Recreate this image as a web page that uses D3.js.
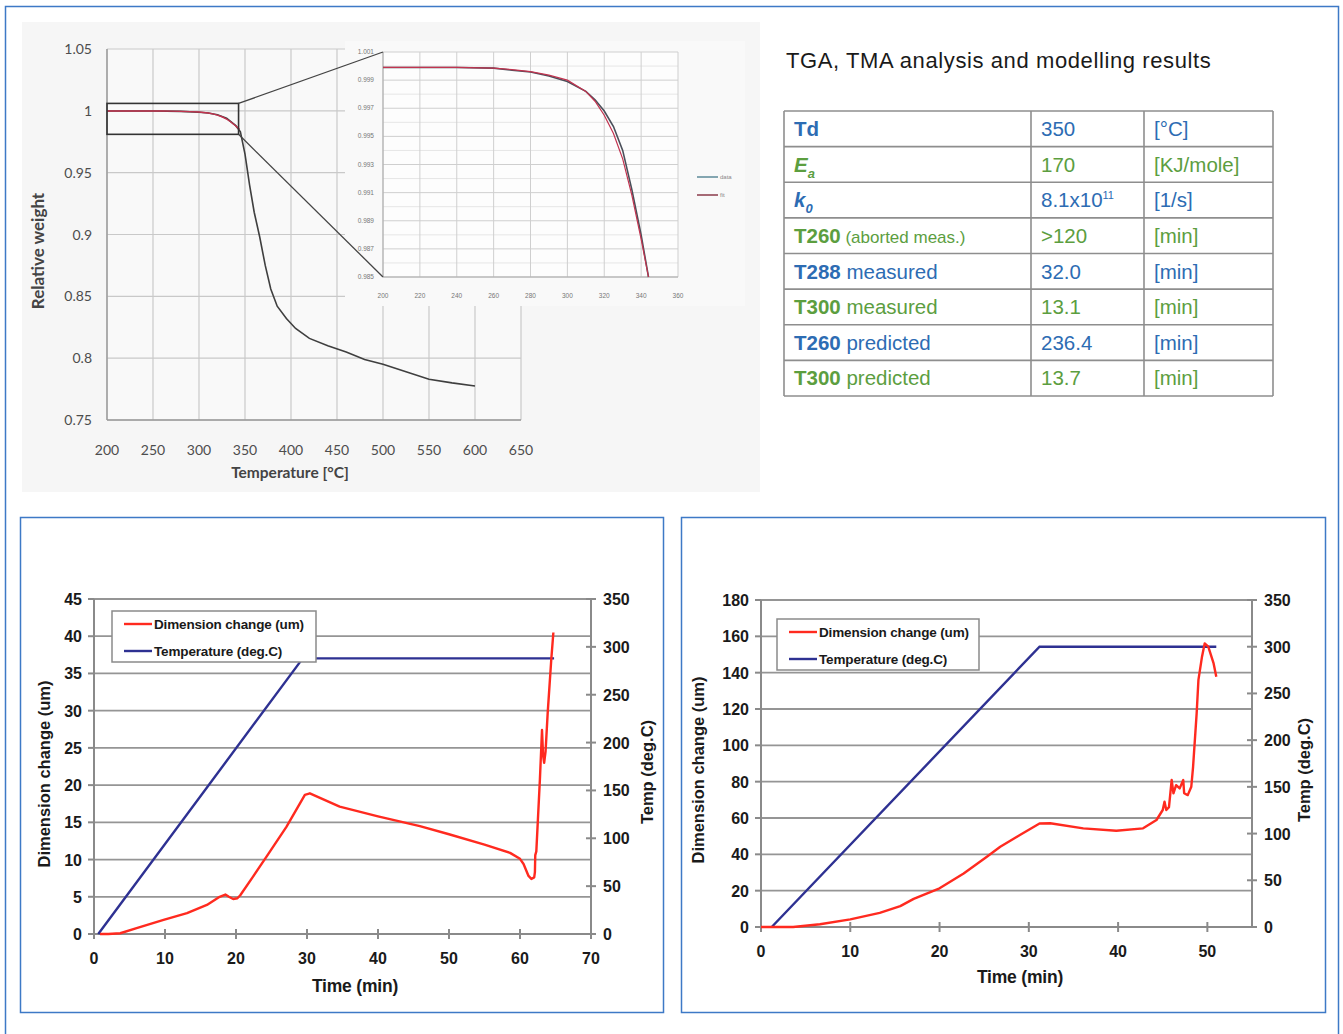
<!DOCTYPE html>
<html>
<head>
<meta charset="utf-8">
<title>TGA / TMA analysis</title>
<script src="https://d3js.org/d3.v7.min.js"></script>
<style>
body { margin: 0; background: #fff; }
svg text { font-family: "Liberation Sans", Arial, sans-serif; }
</style>
</head>
<body>
<div id="my_dataviz"></div>
<script>

// ---- TGA: relative weight vs temperature ----
var tgaTemp   = [200, 250, 280, 300, 310, 320, 330, 340, 345, 350, 355, 360, 366, 372, 378, 385, 395, 405, 420, 440, 460, 480, 500, 525, 550, 575, 600];
var tgaWeight = [0.9999, 0.9999, 0.9996, 0.9989, 0.9982, 0.9968, 0.9940, 0.9880, 0.983, 0.965, 0.940, 0.918, 0.898, 0.875, 0.856, 0.842, 0.832, 0.824, 0.816, 0.810, 0.805, 0.799, 0.795, 0.789, 0.783, 0.780, 0.7775];
var tgaXTicks = [200, 250, 300, 350, 400, 450, 500, 550, 600, 650];
var tgaYTicks = [0.75, 0.8, 0.85, 0.9, 0.95, 1, 1.05];
var tgaYLabels = ["0.75", "0.8", "0.85", "0.9", "0.95", "1", "1.05"];

// zoomed part of the TGA curve: measured data and model fit
var zoomTemp = [200, 220, 240, 260, 270, 280, 290, 300, 310, 315, 320, 325, 330, 335, 340, 344];
var zoomData = [0.9999, 0.9999, 0.9999, 0.99985, 0.9997, 0.99958, 0.9993, 0.9989, 0.9982, 0.9976, 0.9968, 0.9957, 0.9940, 0.9912, 0.9880, 0.9850];
var zoomFit  = [0.9999, 0.9999, 0.9999, 0.99986, 0.99975, 0.9996, 0.99935, 0.9990, 0.9982, 0.9975, 0.9965, 0.9952, 0.9934, 0.9908, 0.9877, 0.9850];
var zoomXTicks = [200, 220, 240, 260, 280, 300, 320, 340, 360];
var zoomYTicks = [0.985, 0.987, 0.989, 0.991, 0.993, 0.995, 0.997, 0.999, 1.001];
var zoomBox = {t0: 200, t1: 343, w0: 0.981, w1: 1.006};

// ---- table ----
var tableLabel = ["Td", "E", "k", "T260", "T288", "T300", "T260", "T300"];
var tableSub   = ["", "a", "0", "", "", "", "", ""];
var tableNote  = ["", "", "", "(aborted meas.)", "measured", "measured", "predicted", "predicted"];
var tableValue = ["350", "170", "8.1x10", ">120", "32.0", "13.1", "236.4", "13.7"];
var tableSup   = ["", "", "11", "", "", "", "", ""];
var tableUnit  = ["[°C]", "[KJ/mole]", "[1/s]", "[min]", "[min]", "[min]", "[min]", "[min]"];
var tableColor = ["blue", "green", "blue", "green", "blue", "green", "blue", "green"];

// ---- TMA run 1 (plateau 288 C) ----
var tma1Time = [0.85, 2, 3.7, 6, 9.8, 13.1, 15.9, 17.7, 18.5, 19.0, 19.6, 20.2, 20.6, 22.4, 24.3, 27.1, 29.7, 30.4, 34.6, 40, 45.9, 50, 55, 58.6, 60, 60.5, 61.2, 61.6, 62.0, 62.1, 62.15, 62.3, 62.8, 63.1, 63.25, 63.4, 63.6, 63.9, 64.4, 64.7];
var tma1Dim  = [0, 0, 0.1, 0.8, 1.9, 2.8, 3.9, 5.0, 5.3, 5.0, 4.7, 4.8, 5.2, 7.7, 10.4, 14.4, 18.7, 18.9, 17.1, 15.8, 14.5, 13.4, 12.0, 10.9, 10.1, 9.4, 7.8, 7.4, 7.6, 8.3, 10.6, 11.1, 20.7, 27.4, 24.0, 23.0, 24.5, 29.7, 36.8, 40.5];
var tma1TempTime = [0.6, 29.4, 64.8];
var tma1Temp     = [0, 288, 288];

// ---- TMA run 2 (plateau 300 C) ----
var tma2Time = [0, 3.6, 6.6, 10, 13.3, 15.6, 17.1, 20, 22.7, 25.3, 26.8, 29, 31.2, 32.4, 36.1, 39.8, 42.8, 44.3, 45.0, 45.2, 45.4, 45.7, 46.0, 46.2, 46.5, 46.9, 47.3, 47.4, 47.8, 48.2, 48.4, 48.8, 49.0, 49.4, 49.7, 50.1, 50.7, 51.0];
var tma2Dim  = [0, 0, 1.5, 4.2, 7.8, 11.5, 15.5, 21.3, 29.5, 38.7, 44.2, 50.6, 57.0, 57.1, 54.3, 53.0, 54.3, 58.9, 64.4, 69.0, 64.4, 66.0, 80.9, 73.6, 78.1, 76.3, 80.9, 73.6, 72.6, 77.2, 88.2, 117.6, 136, 148.8, 156.1, 154.3, 145.1, 137.8];
var tma2TempTime = [1.2, 31.2, 51.0];
var tma2Temp     = [0, 300, 300];

var tempTicks = [0, 50, 100, 150, 200, 250, 300, 350];
var legendNames = ["Dimension change (um)", "Temperature (deg.C)"];

var BLUE_TXT = "#2d6cb3", GREEN_TXT = "#5c9e3f";
var RED = "#ff2a1f", NAVY = "#2e3192", FRAME = "#3d79c6";

var svg = d3.select("#my_dataviz").append("svg")
  .attr("width", 1343).attr("height", 1034);

svg.append("rect").attr("width", 1343).attr("height", 1034).attr("fill", "#fff");
// outer frame
svg.append("rect").attr("x", 5.5).attr("y", 6.5).attr("width", 1333).attr("height", 1040)
  .attr("fill", "none").attr("stroke", FRAME).attr("stroke-width", 1.5);

// ================= TGA chart =================
var tga = svg.append("g");
tga.append("rect").attr("x", 22).attr("y", 22).attr("width", 738).attr("height", 470).attr("fill", "#f6f6f6");

var tx = d3.scaleLinear().domain([200, 650]).range([107, 521]);
var ty = d3.scaleLinear().domain([0.75, 1.05]).range([420, 49]);

tga.append("rect").attr("x", tx(200)).attr("y", ty(1.05))
  .attr("width", tx(650) - tx(200)).attr("height", ty(0.75) - ty(1.05)).attr("fill", "#f9f9f9");

tga.append("g").selectAll("line").data(tgaXTicks).join("line")
  .attr("x1", d => tx(d)).attr("x2", d => tx(d))
  .attr("y1", ty(1.05)).attr("y2", ty(0.75))
  .attr("stroke", "#c9c9c9").attr("stroke-width", 1.2);
tga.append("g").selectAll("line").data(tgaYTicks).join("line")
  .attr("x1", tx(200)).attr("x2", tx(650))
  .attr("y1", d => ty(d)).attr("y2", d => ty(d))
  .attr("stroke", "#c9c9c9").attr("stroke-width", 1.2);
// axis lines
tga.append("line").attr("x1", tx(200)).attr("x2", tx(200)).attr("y1", ty(1.05)).attr("y2", ty(0.75)).attr("stroke", "#999").attr("stroke-width", 1.4);
tga.append("line").attr("x1", tx(200)).attr("x2", tx(650)).attr("y1", ty(0.75)).attr("y2", ty(0.75)).attr("stroke", "#999").attr("stroke-width", 1.4);

tga.append("g").selectAll("text").data(tgaXTicks).join("text")
  .attr("x", d => tx(d)).attr("y", 455).attr("text-anchor", "middle")
  .style("font-family", "Lato, sans-serif").attr("font-size", 14).attr("fill", "#4d4d4d")
  .text(d => d);
tga.append("g").selectAll("text").data(tgaYTicks).join("text")
  .attr("x", 92).attr("y", d => ty(d) + 5).attr("text-anchor", "end")
  .style("font-family", "Lato, sans-serif").attr("font-size", 14).attr("fill", "#4d4d4d")
  .text((d, i) => tgaYLabels[i]);

tga.append("text").attr("transform", "translate(44,251) rotate(-90)").attr("text-anchor", "middle")
  .style("font-family", "Lato, sans-serif").attr("font-size", 17).attr("font-weight", "bold").attr("fill", "#444")
  .text("Relative weight");
tga.append("text").attr("x", 290).attr("y", 478).attr("text-anchor", "middle")
  .style("font-family", "Lato, sans-serif").attr("font-size", 15.5).attr("font-weight", "bold").attr("fill", "#444")
  .text("Temperature [°C]");

var tLine = d3.line().x(d => tx(d[0])).y(d => ty(d[1]));
tga.append("path").datum(d3.zip(tgaTemp, tgaWeight))
  .attr("d", tLine).attr("fill", "none").attr("stroke", "#3f3f3f").attr("stroke-width", 1.6);
tga.append("path").datum(d3.zip(zoomTemp, zoomFit))
  .attr("d", tLine).attr("fill", "none").attr("stroke", "#c2334f").attr("stroke-width", 1.4);

// zoom box
tga.append("rect").attr("x", tx(zoomBox.t0)).attr("y", ty(zoomBox.w1))
  .attr("width", tx(zoomBox.t1) - tx(zoomBox.t0)).attr("height", ty(zoomBox.w0) - ty(zoomBox.w1))
  .attr("fill", "none").attr("stroke", "#333").attr("stroke-width", 1.6);

// ---- inset ----
var zx = d3.scaleLinear().domain([200, 360]).range([383, 678]);
var zy = d3.scaleLinear().domain([0.985, 1.001]).range([277, 52]);

tga.append("rect").attr("x", 345).attr("y", 41).attr("width", 400).attr("height", 265).attr("fill", "#f9f9f9");
tga.append("rect").attr("x", zx(200)).attr("y", zy(1.001)).attr("width", zx(360) - zx(200))
  .attr("height", zy(0.985) - zy(1.001)).attr("fill", "#fdfdfd");
tga.append("g").selectAll("line").data(d3.range(0, 17)).join("line")
  .attr("x1", zx(200)).attr("x2", zx(360))
  .attr("y1", i => zy(0.985 + i * 0.001)).attr("y2", i => zy(0.985 + i * 0.001))
  .attr("stroke", i => i % 2 ? "#e6e6e6" : "#cfcfcf").attr("stroke-width", 1);
tga.append("g").selectAll("line").data(zoomXTicks).join("line")
  .attr("x1", d => zx(d)).attr("x2", d => zx(d))
  .attr("y1", zy(1.001)).attr("y2", zy(0.985))
  .attr("stroke", "#cfcfcf").attr("stroke-width", 1);
tga.append("line").attr("x1", zx(200)).attr("x2", zx(200)).attr("y1", zy(1.001)).attr("y2", zy(0.985)).attr("stroke", "#aaa");
tga.append("line").attr("x1", zx(200)).attr("x2", zx(360)).attr("y1", zy(0.985)).attr("y2", zy(0.985)).attr("stroke", "#aaa");

tga.append("g").selectAll("text").data(zoomXTicks).join("text")
  .attr("x", d => zx(d)).attr("y", 298).attr("text-anchor", "middle")
  .attr("font-size", 6.5).attr("fill", "#777").text(d => d);
tga.append("g").selectAll("text").data(zoomYTicks).join("text")
  .attr("x", 374).attr("y", d => zy(d) + 2).attr("text-anchor", "end")
  .attr("font-size", 6.5).attr("fill", "#777").text(d => d3.format(".3f")(d));

var zLine = d3.line().x(d => zx(d[0])).y(d => zy(d[1]));
tga.append("path").datum(d3.zip(zoomTemp, zoomData))
  .attr("d", zLine).attr("fill", "none").attr("stroke", "#4a4f5a").attr("stroke-width", 1.6);
tga.append("path").datum(d3.zip(zoomTemp, zoomFit))
  .attr("d", zLine).attr("fill", "none").attr("stroke", "#c2334f").attr("stroke-width", 1.2);

// inset legend
[["data", "#5c8a99"], ["fit", "#8a3a4a"]].forEach(function(e, i) {
  tga.append("line").attr("x1", 697).attr("x2", 718).attr("y1", 177 + i * 18).attr("y2", 177 + i * 18)
    .attr("stroke", e[1]).attr("stroke-width", 1.5);
  tga.append("text").attr("x", 720).attr("y", 179 + i * 18).attr("font-size", 6).attr("fill", "#888").text(e[0]);
});

// connectors from box to inset
tga.append("line").attr("x1", tx(zoomBox.t1)).attr("y1", ty(zoomBox.w1)).attr("x2", zx(200)).attr("y2", zy(1.001))
  .attr("stroke", "#444").attr("stroke-width", 1.3);
tga.append("line").attr("x1", tx(zoomBox.t1)).attr("y1", ty(zoomBox.w0)).attr("x2", zx(200)).attr("y2", zy(0.985))
  .attr("stroke", "#444").attr("stroke-width", 1.3);

// ================= table =================
var tb = svg.append("g");
tb.append("text").attr("x", 786).attr("y", 68).attr("font-size", 22).attr("letter-spacing", 0.6).attr("fill", "#1a1a1a")
  .text("TGA, TMA analysis and modelling results");

var colX = [784, 1031, 1144, 1273];
var rowH = (396 - 111) / tableLabel.length;
tb.append("g").selectAll("line").data(d3.range(tableLabel.length + 1)).join("line")
  .attr("x1", colX[0]).attr("x2", colX[3])
  .attr("y1", i => 111 + i * rowH).attr("y2", i => 111 + i * rowH)
  .attr("stroke", "#8e8e8e").attr("stroke-width", 1.6);
tb.append("g").selectAll("line").data(colX).join("line")
  .attr("x1", d => d).attr("x2", d => d).attr("y1", 111).attr("y2", 396)
  .attr("stroke", "#8e8e8e").attr("stroke-width", 1.6);

tableLabel.forEach(function(lab, i) {
  var col = tableColor[i] === "blue" ? BLUE_TXT : GREEN_TXT;
  var base = 111 + i * rowH + 25;
  var t = tb.append("text").attr("x", 794).attr("y", base).attr("fill", col).attr("font-size", 20.5);
  t.append("tspan").attr("font-weight", "bold")
    .attr("font-style", tableSub[i] ? "italic" : "normal").text(lab);
  if (tableSub[i]) t.append("tspan").attr("dy", 6).attr("font-size", 13)
    .attr("font-style", "italic").attr("font-weight", "bold").text(tableSub[i]);
  if (tableNote[i]) t.append("tspan").attr("font-size", i === 3 ? 17 : 20.5).text(" " + tableNote[i]);

  var v = tb.append("text").attr("x", 1041).attr("y", base).attr("fill", col).attr("font-size", 20.5);
  v.append("tspan").text(tableValue[i]);
  if (tableSup[i]) v.append("tspan").attr("dy", -8).attr("font-size", 11).text(tableSup[i]);

  tb.append("text").attr("x", 1154).attr("y", base).attr("fill", col).attr("font-size", 20.5).text(tableUnit[i]);
});

// ================= TMA charts =================
function drawTma(o, time, dim, tTime, temp) {
  var g = svg.append("g");
  g.append("rect").attr("x", o.box[0] + 0.5).attr("y", o.box[1] + 0.5)
    .attr("width", o.box[2] - o.box[0]).attr("height", o.box[3] - o.box[1])
    .attr("fill", "#fff").attr("stroke", FRAME).attr("stroke-width", 1.5);

  var x = d3.scaleLinear().domain([0, o.xMax]).range([o.left, o.right]);
  var yL = d3.scaleLinear().domain([0, o.dimMax]).range([o.bottom, o.top]);
  var yR = d3.scaleLinear().domain([0, 350]).range([o.bottom, o.top]);
  var dimTicks = d3.range(0, o.dimMax + 1, o.dimStep);
  var xTicks = d3.range(0, o.xMax + 0.1, 10);

  g.append("g").selectAll("line").data(dimTicks).join("line")
    .attr("x1", o.left).attr("x2", o.right).attr("y1", d => yL(d)).attr("y2", d => yL(d))
    .attr("stroke", "#959595").attr("stroke-width", 1.8);
  g.append("line").attr("x1", o.left).attr("x2", o.left).attr("y1", o.top).attr("y2", o.bottom)
    .attr("stroke", "#8a8a8a").attr("stroke-width", 2);
  g.append("line").attr("x1", o.right).attr("x2", o.right).attr("y1", o.top).attr("y2", o.bottom)
    .attr("stroke", "#8a8a8a").attr("stroke-width", 2);
  g.append("line").attr("x1", o.left).attr("x2", o.right).attr("y1", o.bottom).attr("y2", o.bottom)
    .attr("stroke", "#8a8a8a").attr("stroke-width", 2);

  // ticks
  g.append("g").selectAll("line").data(dimTicks).join("line")
    .attr("x1", o.left - 6).attr("x2", o.left).attr("y1", d => yL(d)).attr("y2", d => yL(d))
    .attr("stroke", "#8a8a8a").attr("stroke-width", 2);
  g.append("g").selectAll("line").data(tempTicks).join("line")
    .attr("x1", o.right - 5).attr("x2", o.right + 5).attr("y1", d => yR(d)).attr("y2", d => yR(d))
    .attr("stroke", "#8a8a8a").attr("stroke-width", 2);
  g.append("g").selectAll("line").data(xTicks).join("line")
    .attr("x1", d => x(d)).attr("x2", d => x(d)).attr("y1", o.bottom - 5).attr("y2", o.bottom + 5)
    .attr("stroke", "#8a8a8a").attr("stroke-width", 2);

  var lab = { "font-size": 16, "font-weight": "bold", "fill": "#1a1a1a" };
  function style(sel) { for (var k in lab) sel.attr(k, lab[k]); return sel; }
  style(g.append("g").selectAll("text").data(dimTicks).join("text"))
    .attr("x", o.left - 12).attr("y", d => yL(d) + 6).attr("text-anchor", "end").text(d => d);
  style(g.append("g").selectAll("text").data(tempTicks).join("text"))
    .attr("x", o.right + 12).attr("y", d => yR(d) + 6).attr("text-anchor", "start").text(d => d);
  style(g.append("g").selectAll("text").data(xTicks).join("text"))
    .attr("x", d => x(d)).attr("y", o.bottom + 30).attr("text-anchor", "middle").text(d => d);

  style(g.append("text")).attr("x", o.xTitle[0]).attr("y", o.xTitle[1]).attr("text-anchor", "middle")
    .attr("font-size", 17.5).attr("letter-spacing", -0.2).text("Time (min)");
  style(g.append("text")).attr("transform", "translate(" + o.lTitle[0] + "," + o.lTitle[1] + ") rotate(-90)")
    .attr("text-anchor", "middle").attr("font-size", 16.5).text("Dimension change (um)");
  style(g.append("text")).attr("transform", "translate(" + o.rTitle[0] + "," + o.rTitle[1] + ") rotate(-90)")
    .attr("text-anchor", "middle").attr("font-size", 16.5).text("Temp (deg.C)");

  // curves
  g.append("path").datum(d3.zip(tTime, temp))
    .attr("d", d3.line().x(d => x(d[0])).y(d => yR(d[1])))
    .attr("fill", "none").attr("stroke", NAVY).attr("stroke-width", 2.4);
  g.append("path").datum(d3.zip(time, dim))
    .attr("d", d3.line().x(d => x(d[0])).y(d => yL(d[1])))
    .attr("fill", "none").attr("stroke", RED).attr("stroke-width", 2.4).attr("stroke-linejoin", "round");

  // legend
  var L = o.legend;
  g.append("rect").attr("x", L[0]).attr("y", L[1]).attr("width", L[2]).attr("height", L[3])
    .attr("fill", "#fff").attr("stroke", "#8a8a8a").attr("stroke-width", 1.5);
  [RED, NAVY].forEach(function(c, i) {
    var yy = L[1] + 13 + i * 27;
    g.append("line").attr("x1", L[0] + 12).attr("x2", L[0] + 40).attr("y1", yy).attr("y2", yy)
      .attr("stroke", c).attr("stroke-width", 2.4);
    g.append("text").attr("x", L[0] + 42).attr("y", yy + 5).attr("font-size", 13.5).attr("font-weight", "bold")
      .attr("letter-spacing", -0.15).attr("fill", "#1a1a1a").text(legendNames[i]);
  });
}

drawTma({
  box: [20, 517, 663, 1012],
  left: 94, right: 591, top: 599, bottom: 934,
  xMax: 70, dimMax: 45, dimStep: 5,
  xTitle: [355, 992], lTitle: [50, 774], rTitle: [653, 772],
  legend: [112, 611, 204, 51]
}, tma1Time, tma1Dim, tma1TempTime, tma1Temp);

drawTma({
  box: [681, 517, 1325, 1012],
  left: 761, right: 1252, top: 600, bottom: 927,
  xMax: 55, dimMax: 180, dimStep: 20,
  xTitle: [1020, 983], lTitle: [704, 770], rTitle: [1310, 770],
  legend: [777, 619, 202, 51]
}, tma2Time, tma2Dim, tma2TempTime, tma2Temp);

</script>
</body>
</html>
